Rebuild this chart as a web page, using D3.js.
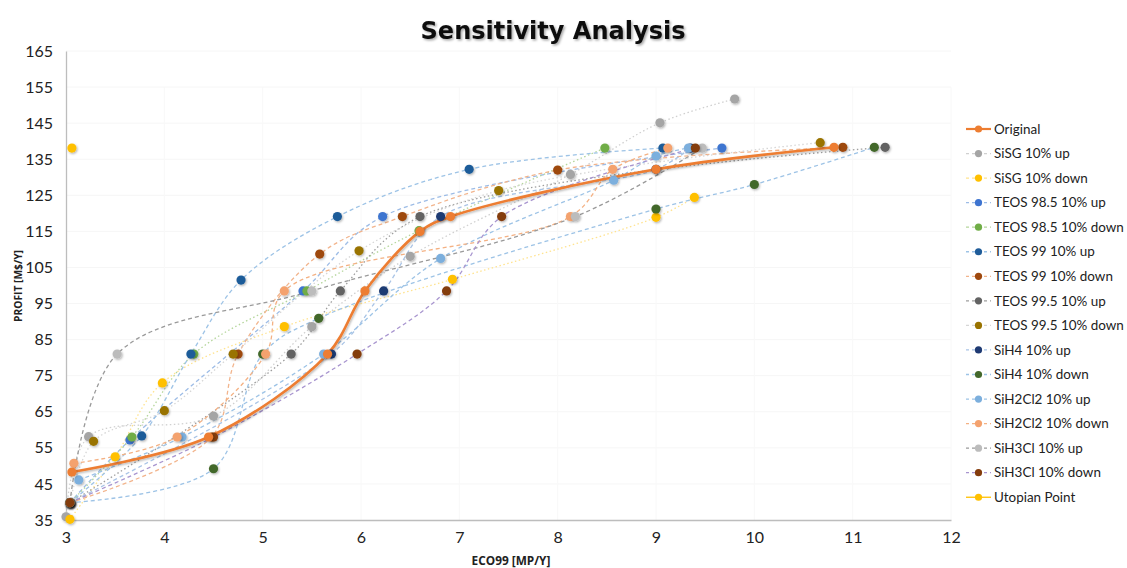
<!DOCTYPE html>
<html><head><meta charset="utf-8">
<script src="https://cdn.jsdelivr.net/npm/d3@7"></script>
<style>body{margin:0;background:#fff}svg{display:block}</style>
</head><body>
<svg id="c" width="1127" height="568"></svg>
<script>
// ---- data ----
const seriesNames = ["Original","SiSG 10% up","SiSG 10% down","TEOS 98.5 10% up","TEOS 98.5 10% down","TEOS 99 10% up","TEOS 99 10% down","TEOS 99.5 10% up","TEOS 99.5 10% down","SiH4 10% up","SiH4 10% down","SiH2Cl2 10% up","SiH2Cl2 10% down","SiH3Cl 10% up","SiH3Cl 10% down","Utopian Point"];
const original      = [[3.06,48.3],[4.45,58],[5.66,81],[6.04,98.5],[6.6,115],[6.91,119.1],[9.0,132.2],[10.81,138.3]];
const sisgUp        = [[3.0,35.9],[3.23,58.1],[4.5,63.8],[5.5,88.6],[6.5,108.1],[8.13,130.8],[9.04,145.1],[9.8,151.7]];
const sisgDown      = [[3.04,35.2],[3.5,52.5],[3.98,73],[5.22,88.6],[6.93,101.7],[9.0,118.9],[9.39,124.4]];
const teos985Up     = [[3.04,39.8],[3.65,57.2],[5.41,98.5],[6.22,119.1],[9.67,138.1]];
const teos985Down   = [[3.04,39.8],[3.67,58],[4.3,81],[5.45,98.5],[6.59,115.2],[8.48,138.1]];
const teos99Up      = [[3.04,39.8],[3.77,58.3],[4.27,81],[4.78,101.5],[5.76,119.1],[7.1,132.2],[9.07,138.1]];
const teos99Down    = [[3.04,39.8],[4.48,58],[4.75,81],[5.58,108.7],[6.42,119.1],[8.0,132],[10.9,138.3]];
const teos995Up     = [[3.04,39.8],[5.29,81],[5.79,98.5],[6.6,119.1],[11.33,138.3]];
const teos995Down   = [[3.04,39.8],[3.28,56.8],[4.0,65.3],[4.7,81],[5.98,109.6],[7.4,126.3],[10.67,139.6]];
const sih4Up        = [[3.04,39.8],[5.7,81],[6.23,98.5],[6.81,119.1],[9.0,132.2],[9.35,138.1]];
const sih4Down      = [[3.04,39.8],[4.5,49.2],[5.0,81],[5.57,90.9],[9.0,121.2],[10.0,128],[11.22,138.3]];
const sih2cl2Up     = [[3.13,46.1],[4.18,58],[5.62,81],[6.81,107.5],[8.57,129.2],[9.0,135.9],[9.33,138.1]];
const sih2cl2Down   = [[3.08,50.7],[4.13,58],[5.03,81],[5.22,98.5],[8.13,119.1],[8.56,132.2],[9.12,138.1]];
const sih3clUp      = [[3.04,39.8],[3.52,81],[5.5,98.5],[8.18,119.1],[9.47,138.1]];
const sih3clDown    = [[3.04,39.8],[4.5,58],[5.96,81],[6.87,98.5],[7.43,119.1],[9.4,138.1]];
const utopian       = [[3.06,138.1]];
const xTicks = [3,4,5,6,7,8,9,10,11,12];
const yTicks = [35,45,55,65,75,85,95,105,115,125,135,145,155,165];

const seriesData = [original,sisgUp,sisgDown,teos985Up,teos985Down,teos99Up,teos99Down,teos995Up,teos995Down,sih4Up,sih4Down,sih2cl2Up,sih2cl2Down,sih3clUp,sih3clDown,utopian];

// ---- styles ----
const markerColors = ["#ED7D31","#A5A5A5","#FFC000","#3E74D0","#70AD47","#1F5C99","#9E480E","#636363","#997300","#1F3A73","#43682B","#7CAFDD","#F4A26E","#BCBCBC","#843C0C","#FFC000"];
const lineColors   = ["#ED7D31","#d0d0d0","#ffe38f","#9dbce6","#b5d69c","#9dc3e6","#f2b48c","#9e9e9e","#d6d6d6","#a9c4e6","#9dc3e6","#9dc3e6","#f4b183","#9a9a9a","#a895cf","#FFC000"];
const dashes       = [null,"1.5,2.5","1.5,2.5","4,3","1.5,2.5","4,3","4,3","1.5,2.5","1.5,2.5","4,3","4,3","4,3","4,3","4,3","4,3",null];

const svg = d3.select("#c");
const x = d3.scaleLinear().domain([3,12]).range([66,951]);
const y = d3.scaleLinear().domain([35,165]).range([520,51]);

function fit(sel, base, target){ const w = sel.node().getComputedTextLength(); sel.attr("font-size", base*target/w); return base*target/w; }

const defs = svg.append("defs");
const f = defs.append("filter").attr("id","sh").attr("x","-50%").attr("y","-50%").attr("width","200%").attr("height","200%");
f.append("feDropShadow").attr("dx",1).attr("dy",1.2).attr("stdDeviation",0.9).attr("flood-color","#000").attr("flood-opacity",0.3);
const f2 = defs.append("filter").attr("id","tsh").attr("x","-10%").attr("y","-30%").attr("width","120%").attr("height","160%");
f2.append("feDropShadow").attr("dx",1.5).attr("dy",1.5).attr("stdDeviation",1.2).attr("flood-color","#000").attr("flood-opacity",0.35);

// title
const title = svg.append("text").attr("x",553).attr("y",39).attr("text-anchor","middle")
  .attr("font-family","DejaVu Sans").attr("font-weight","bold").attr("font-size",26)
  .attr("fill","#111").attr("filter","url(#tsh)").text("Sensitivity Analysis");
fit(title, 26, 265);

// faint gridlines
const grid = svg.append("g");
grid.selectAll("line.h").data(yTicks.slice(1)).join("line")
  .attr("x1",x(3)).attr("x2",x(12)).attr("y1",d=>y(d)).attr("y2",d=>y(d))
  .attr("stroke","#f6f6f6").attr("stroke-width",1);
grid.selectAll("line.v").data(xTicks.slice(1)).join("line")
  .attr("y1",y(35)).attr("y2",y(155)).attr("x1",d=>x(d)).attr("x2",d=>x(d))
  .attr("stroke","#f8f8f8").attr("stroke-width",1);

// axes
const font = "Lato, 'Open Sans', sans-serif";
const xAxis = svg.append("g").attr("transform",`translate(0,${y(35)})`)
  .call(d3.axisBottom(x).tickValues(xTicks).tickSize(0).tickPadding(12));
const yAxis = svg.append("g").attr("transform",`translate(${x(3)},0)`)
  .call(d3.axisLeft(y).tickValues(yTicks).tickSize(0).tickPadding(13));
[xAxis,yAxis].forEach(a=>{
  a.select(".domain").attr("stroke","#bdbdbd").attr("stroke-width",1.3);
  a.selectAll("text").attr("font-family",font).attr("font-size",16).attr("fill","#222");
});

const yt = svg.append("text").attr("transform",`translate(22,286) rotate(-90)`).attr("text-anchor","middle")
  .attr("font-family","'Open Sans', sans-serif").attr("font-weight","bold").attr("font-size",11).attr("fill","#222").text("PROFIT [M$/Y]");
fit(yt, 11, 72);
const xt = svg.append("text").attr("x",511).attr("y",565).attr("text-anchor","middle")
  .attr("font-family","'Open Sans', sans-serif").attr("font-weight","bold").attr("font-size",11).attr("fill","#222").text("ECO99 [MP/Y]");
fit(xt, 11, 79);

// lines
const line = d3.line().x(d=>x(d[0])).y(d=>y(d[1])).curve(d3.curveCatmullRom.alpha(0.5));
const plot = svg.append("g");
seriesData.forEach((s,i)=>{
  if(i===0 || s.length<2) return;
  plot.append("path").attr("d",line(s)).attr("fill","none")
    .attr("stroke",lineColors[i]).attr("stroke-width",1.3)
    .attr("stroke-dasharray",dashes[i]);
});
plot.append("path").attr("d",line(original)).attr("fill","none")
  .attr("stroke",lineColors[0]).attr("stroke-width",2.6).attr("filter","url(#sh)");

// markers
const order = [1,2,3,4,5,6,7,8,9,10,11,12,13,14,0,15];
order.forEach(i=>{
  plot.append("g").selectAll("circle").data(seriesData[i]).join("circle")
    .attr("cx",d=>x(d[0])).attr("cy",d=>y(d[1])).attr("r",4.6)
    .attr("fill",markerColors[i]).attr("filter","url(#sh)");
});

// legend
const lg = svg.append("g");
const ly0 = 129, ldy = 24.55;
const probe = lg.append("text").attr("font-family",font).attr("font-size",14).text("TEOS 98.5 10% down");
const lfs = 14*130/probe.node().getComputedTextLength();
probe.remove();
seriesNames.forEach((n,i)=>{
  const yy = ly0 + i*ldy;
  lg.append("line").attr("x1",966).attr("x2",991).attr("y1",yy).attr("y2",yy)
    .attr("stroke",lineColors[i]).attr("stroke-width",i===0?2.2:1.3).attr("stroke-dasharray",dashes[i]?"3,3":null);
  lg.append("circle").attr("cx",978.5).attr("cy",yy).attr("r",3.6).attr("fill",markerColors[i]);
  lg.append("text").attr("x",994).attr("y",yy).attr("dy","0.35em")
    .attr("font-family",font).attr("font-size",lfs).attr("fill","#222").text(n);
});
</script>
</body></html>
